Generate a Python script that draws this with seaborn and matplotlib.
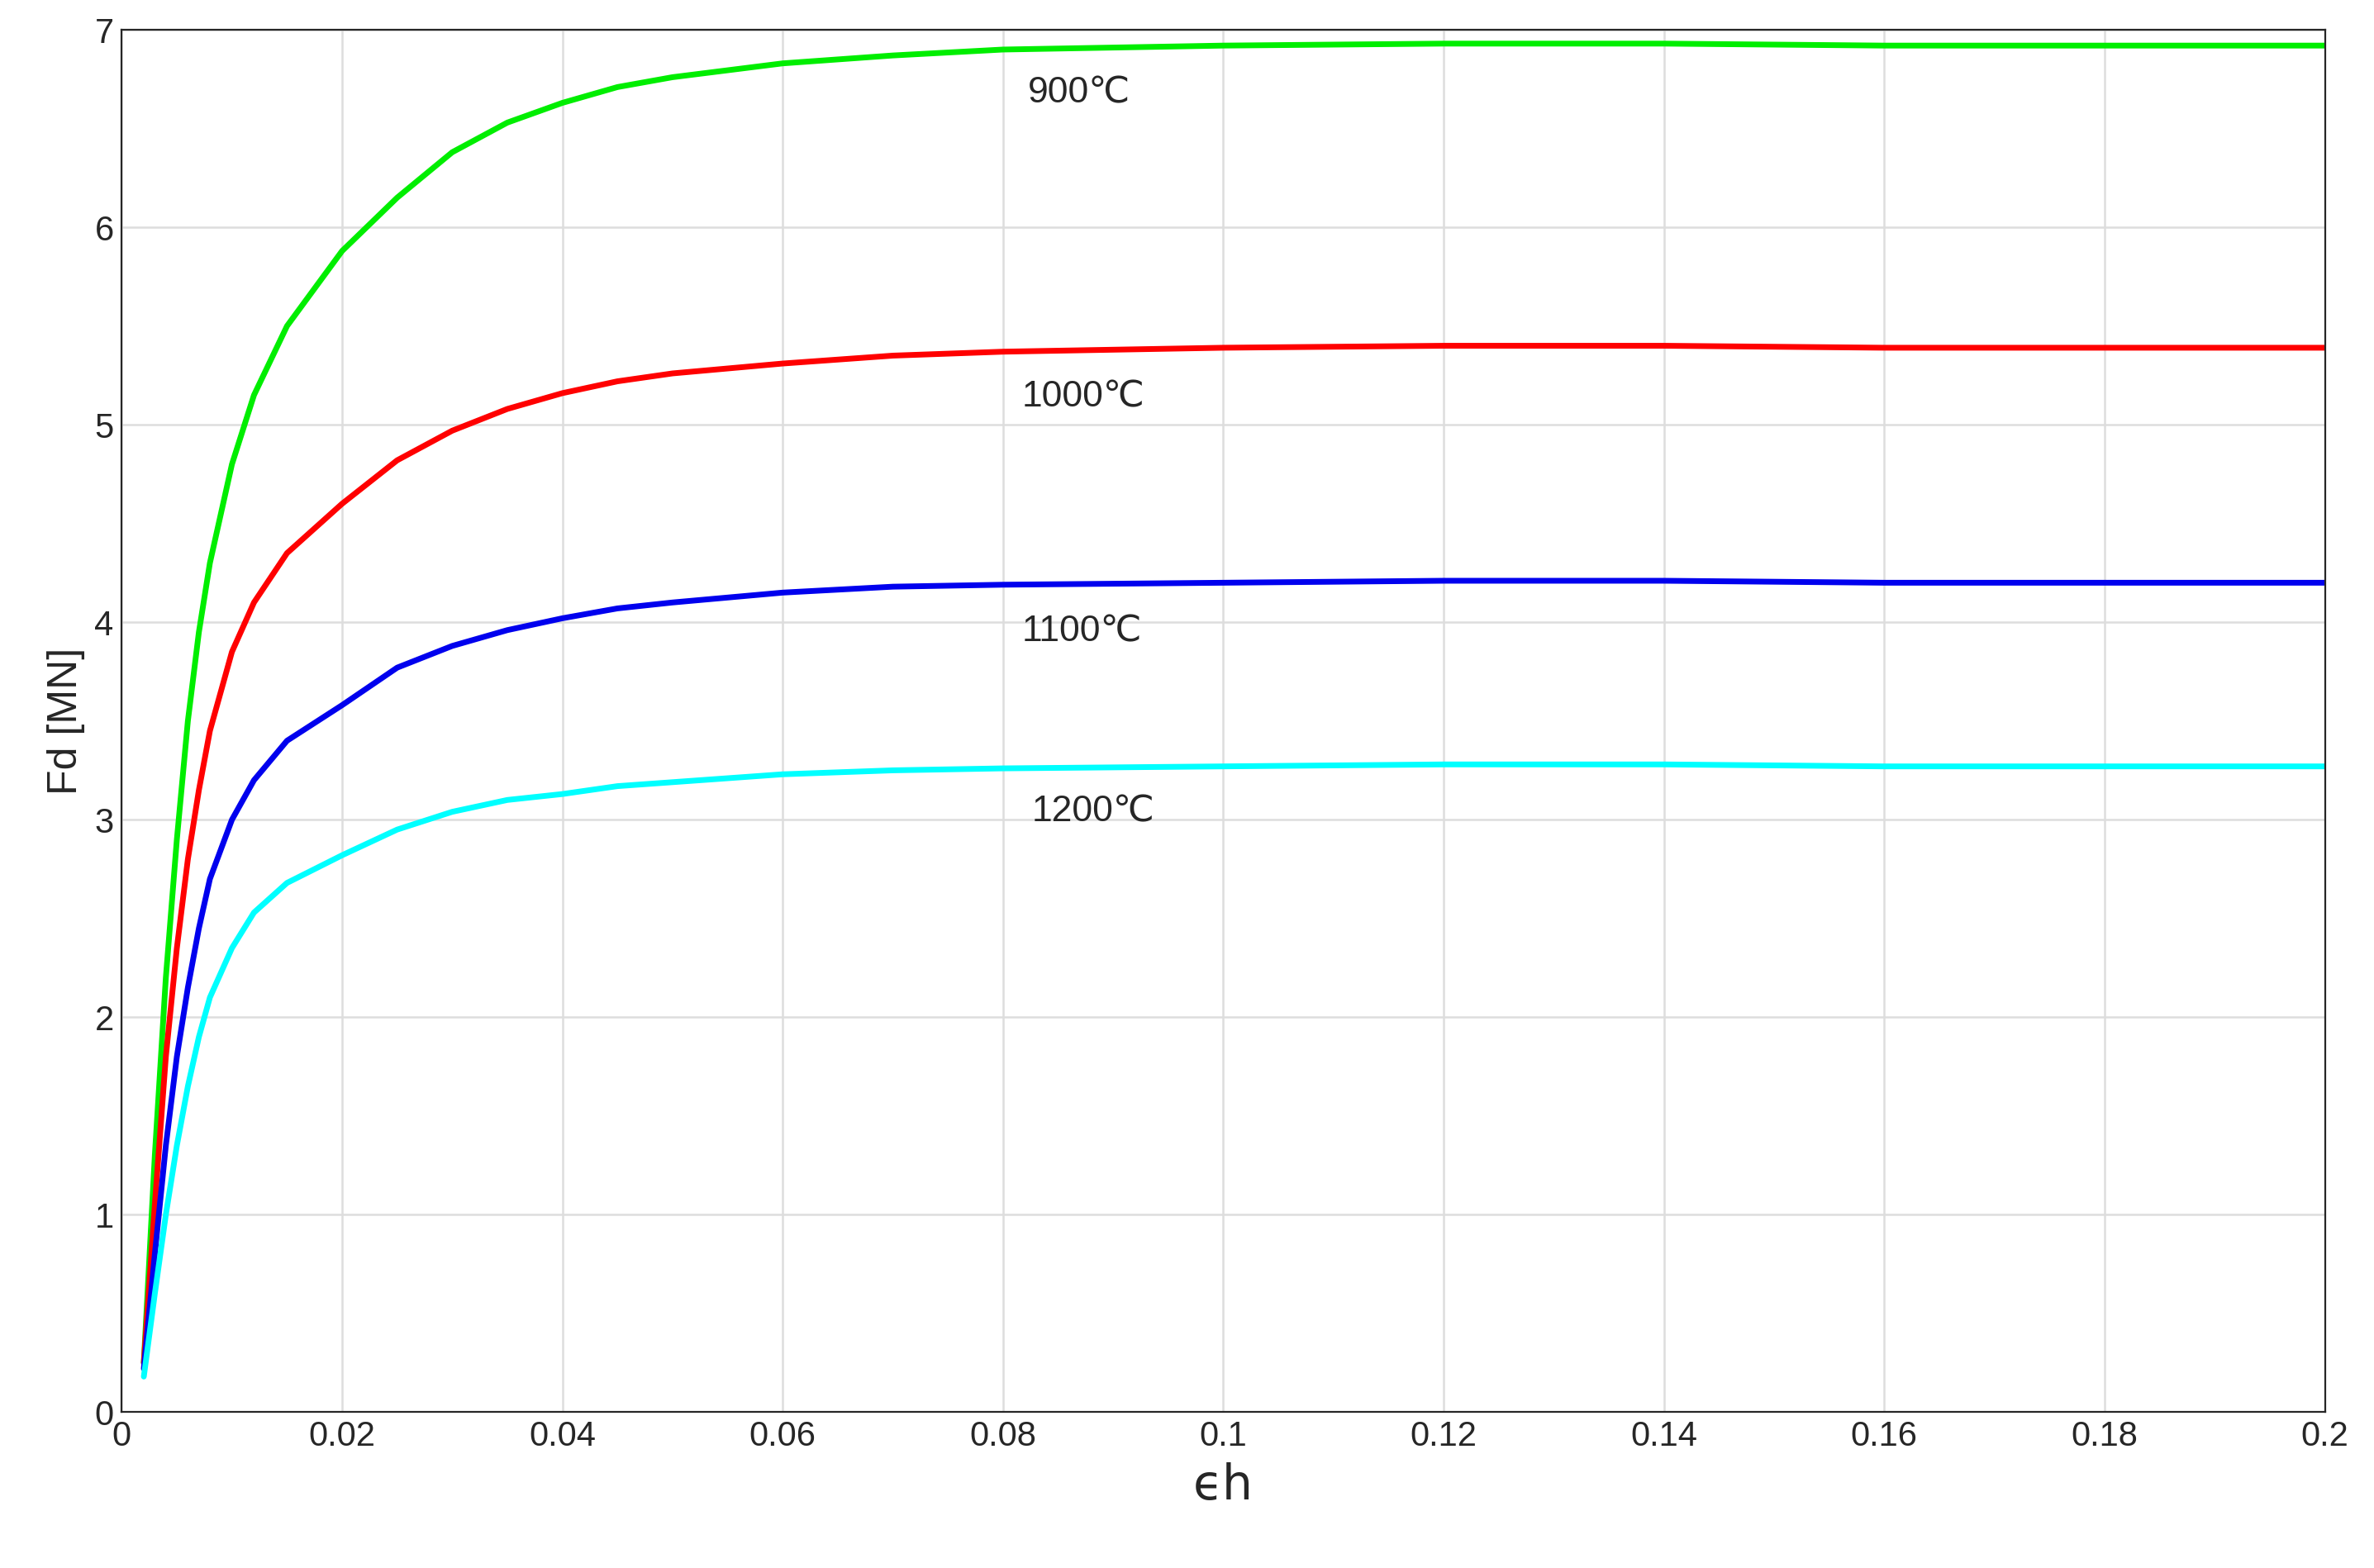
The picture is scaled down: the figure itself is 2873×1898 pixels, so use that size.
import numpy as np
import pandas as pd
import matplotlib
matplotlib.use("Agg")
import matplotlib.pyplot as plt
import matplotlib.ticker as mticker
import seaborn as sns

strain = [0.002, 0.003, 0.004, 0.005, 0.006, 0.007, 0.008, 0.01, 0.012, 0.015, 0.02, 0.025,
          0.03, 0.035, 0.04, 0.045, 0.05, 0.06, 0.07, 0.08, 0.1, 0.12, 0.14, 0.16, 0.18, 0.2]
force_900 = [0.25, 1.3, 2.2, 2.9, 3.5, 3.95, 4.3, 4.8, 5.15, 5.5, 5.88, 6.15,
             6.38, 6.53, 6.63, 6.71, 6.76, 6.83, 6.87, 6.9, 6.92, 6.93, 6.93, 6.92, 6.92, 6.92]
force_1000 = [0.25, 1.05, 1.8, 2.35, 2.8, 3.15, 3.45, 3.85, 4.1, 4.35, 4.6, 4.82,
              4.97, 5.08, 5.16, 5.22, 5.26, 5.31, 5.35, 5.37, 5.39, 5.4, 5.4, 5.39, 5.39, 5.39]
force_1100 = [0.22, 0.8, 1.35, 1.8, 2.15, 2.45, 2.7, 3.0, 3.2, 3.4, 3.58, 3.77,
              3.88, 3.96, 4.02, 4.07, 4.1, 4.15, 4.18, 4.19, 4.2, 4.21, 4.21, 4.2, 4.2, 4.2]
force_1200 = [0.18, 0.6, 1.0, 1.35, 1.65, 1.9, 2.1, 2.35, 2.53, 2.68, 2.82, 2.95,
              3.04, 3.1, 3.13, 3.17, 3.19, 3.23, 3.25, 3.26, 3.27, 3.28, 3.28, 3.27, 3.27, 3.27]

labels = ["900℃", "1000℃", "1100℃", "1200℃"]
colors = ["#00ee00", "#ff0000", "#0000ee", "#00ffff"]
label_x = [0.0869, 0.0873, 0.0872, 0.0882]
label_y = [6.68, 5.14, 3.95, 3.04]

df = pd.concat([
    pd.DataFrame({"eh": strain, "Fd": f, "T": lab})
    for f, lab in zip([force_900, force_1000, force_1100, force_1200], labels)
])

sns.set_style("white")
plt.rcParams["font.family"] = ["Liberation Sans", "DejaVu Sans"]
fig = plt.figure(figsize=(14.365, 9.49), dpi=200)
ax = fig.add_axes([0.0513, 0.0994, 0.928, 0.8816])
sns.lineplot(data=df, x="eh", y="Fd", hue="T", palette=dict(zip(labels, colors)),
             linewidth=2.5, legend=False, ax=ax)

for lab, x, y in zip(labels, label_x, label_y):
    ax.text(x, y, lab, ha="center", va="center", fontsize=16,
            family=["Liberation Sans", "DejaVu Sans"])

ax.set_xlim(0, 0.2)
ax.set_ylim(0, 7)
ax.set_xticks(np.arange(0, 0.201, 0.02))
ax.set_yticks(range(0, 8))
ax.xaxis.set_major_formatter(mticker.FuncFormatter(lambda v, p: f"{v:.2f}".rstrip("0").rstrip(".") if v else "0"))
ax.grid(True, color="#dddddd", linewidth=0.9)
ax.tick_params(direction="in", labelsize=15, length=5)
for s in ax.spines.values():
    s.set_color("#262626")
ax.set_xlabel("ϵh", fontsize=21, family=["DejaVu Sans"])
ax.set_ylabel("Fd [MN]", fontsize=18)
fig.savefig("out.png", dpi=200)
